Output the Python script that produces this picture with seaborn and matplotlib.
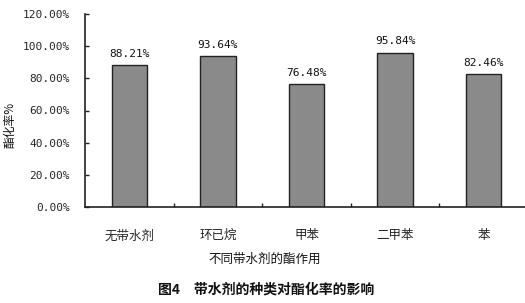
import matplotlib
matplotlib.use("Agg")
import matplotlib.pyplot as plt
import seaborn as sns
import pandas as pd
from matplotlib.ticker import FuncFormatter

categories = ["无带水剂", "环已烷", "甲苯", "二甲苯", "苯"]
values = [88.21, 93.64, 76.48, 95.84, 82.46]
yticks = [0, 20, 40, 60, 80, 100, 120]

sns.set_theme(style="white")
plt.rcParams['font.family'] = ['Noto Sans CJK SC', 'DejaVu Sans']
mono = ['DejaVu Sans Mono']

df = pd.DataFrame({"cat": categories, "val": values})

fig = plt.figure(figsize=(5.25, 3.03), dpi=100)
W, H = 525, 303
ax = fig.add_axes([85 / W, 1 - 207 / H, 443 / W, (207 - 14) / H])
sns.barplot(data=df, x="cat", y="val", ax=ax, color="#8a8a8a", width=0.4,
            edgecolor="#222222", linewidth=1.0, saturation=1)

ax.set_xlim(-0.5, 4.5)
ax.set_ylim(0, 120)
ax.set_yticks(yticks)
ax.yaxis.set_major_formatter(FuncFormatter(lambda v, p: f"{v:.2f}%"))
ax.tick_params(axis='y', direction='in', length=3, width=1, color='#222222',
               labelsize=8, pad=11, left=True)
for lab in ax.get_yticklabels():
    lab.set_family(mono)
# category boundary ticks
ax.set_xticks([0.5, 1.5, 2.5, 3.5], minor=False)
ax.set_xticklabels([])
ax.set_xticks(range(len(categories)), minor=True)
ax.set_xticklabels(categories, minor=True)
ax.tick_params(axis='x', which='major', direction='in', length=3, width=1,
               color='#222222', bottom=True)
ax.tick_params(axis='x', which='minor', length=0, labelsize=9, pad=16)

for s in ['top', 'right']:
    ax.spines[s].set_visible(False)
for s in ['left', 'bottom']:
    ax.spines[s].set_color('#222222')
    ax.spines[s].set_linewidth(1.2)

for i, v in enumerate(values):
    ax.text(i, v + 4, f"{v:.2f}%", ha='center', va='bottom', fontsize=8,
            color='#111111', family=mono)

ax.set_xlabel("")
ax.set_ylabel("")
fig.text(10 / W, 1 - 125 / H, "酯化率%", rotation=90, ha='center', va='center',
         fontsize=8.5, color='#111111')
fig.text(265 / W, 1 - 259 / H, "不同带水剂的酯作用", ha='center', va='center',
         fontsize=9, color='#111111')
fig.text(266 / W, 1 - 290 / H, "图4　带水剂的种类对酯化率的影响", ha='center',
         va='center', fontsize=10, fontweight='bold', color='#111111')

fig.savefig("out.png", dpi=100)
